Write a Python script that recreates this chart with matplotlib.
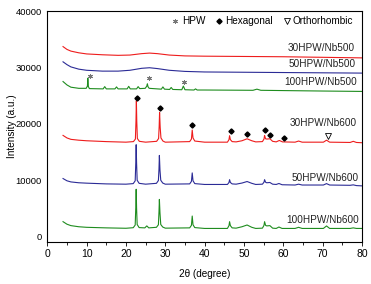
import matplotlib

matplotlib.use("Agg")
import matplotlib.pyplot as plt

plt.rcParams.update({
    "font.family": ["Liberation Sans", "DejaVu Sans"],
    "font.size": 7,
})

# --- data (2theta in degrees, intensity in a.u.) ---
TT_30_500 = [4, 5, 6, 8, 10, 14, 18, 21, 24, 26, 28, 31, 35, 40, 50, 60, 70, 80]
I_30_500 = [33700, 33200, 32900, 32600, 32400, 32250, 32150, 32200, 32450,
            32550, 32450, 32200, 32050, 32000, 31950, 31900, 31800, 31700]

TT_50_500 = [4, 5, 6, 8, 10, 14, 18, 21, 24, 26, 28, 31, 35, 40, 50, 60, 70, 80]
I_50_500 = [31000, 30500, 30100, 29700, 29500, 29350, 29350, 29500, 29850,
            29950, 29800, 29500, 29300, 29200, 29150, 29100, 29050, 29000]

TT_100_500 = [4, 5, 6, 8, 9.9, 10.2, 10.3, 10.45, 10.7, 14.2, 14.6, 15.0, 17.2,
              17.6, 18.0, 20.3, 20.7, 21.1, 22.7, 23.1, 23.5, 24.9, 25.3, 25.45,
              25.6, 25.9, 29.0, 29.4, 29.8, 31.1, 31.5, 31.9, 34.2, 34.6, 35.0,
              37.3, 37.7, 38.1, 40, 52.3, 53.3, 54.3, 60, 70, 80]
I_100_500 = [27500, 26900, 26500, 26300, 26300, 26700, 28100, 26600, 26250,
             26200, 26600, 26200, 26200, 26550, 26200, 26200, 26650, 26200,
             26200, 26600, 26250, 26300, 26700, 27100, 26600, 26300, 26150,
             26550, 26150, 26100, 26450, 26100, 26050, 26700, 26050, 26000,
             26200, 26000, 26000, 25950, 26150, 25950, 25900, 25820, 25750]

TT_30_600 = [4, 5, 6, 8, 10, 15, 20, 21.9, 22.4, 22.55, 22.65, 22.75, 22.9,
             23.4, 25, 27.8, 28.3, 28.45, 28.55, 28.7, 28.9, 29.4, 30, 36.2,
             36.65, 36.85, 37.05, 37.5, 40, 45.8, 46.2, 46.35, 46.55, 47.0, 48,
             49.5, 50.8, 52, 53, 54.7, 55.1, 55.25, 55.5, 55.8, 56.6, 57.3,
             58.2, 59.0, 59.8, 63, 63.9, 64.8, 70.2, 71.0, 71.8, 77, 77.8, 78.6,
             80]
I_30_600 = [17950, 17500, 17250, 17100, 17000, 16850, 16750, 16850, 17300,
            20500, 24100, 20500, 17400, 16900, 16750, 16900, 17400, 19600,
            22050, 19400, 17500, 16950, 16750, 16850, 17300, 18900, 17500,
            16950, 16750, 16750, 17200, 17900, 17200, 16850, 16800, 17000,
            17350, 17000, 16800, 16850, 17300, 17950, 17350, 17300, 17350,
            16900, 16800, 17050, 16800, 16750, 16950, 16750, 16750, 17100,
            16750, 16700, 16900, 16700, 16650]

TT_50_600 = [4, 5, 6, 8, 10, 15, 20, 21.85, 22.35, 22.5, 22.6, 22.7, 22.85,
             23.35, 25, 27.75, 28.25, 28.4, 28.5, 28.65, 28.85, 29.35, 30, 36.2,
             36.65, 36.85, 37.05, 37.5, 40, 45.8, 46.2, 46.35, 46.55, 47.0, 48,
             49.5, 50.8, 52, 53, 54.7, 55.1, 55.25, 55.5, 55.8, 56.6, 57.3,
             58.2, 58.9, 59.7, 63, 63.9, 64.8, 70.2, 71.0, 71.8, 77, 77.8, 78.6,
             80]
I_50_600 = [10300, 9900, 9700, 9550, 9480, 9350, 9300, 9400, 9900, 13100,
            16300, 13100, 10000, 9450, 9300, 9450, 9950, 12000, 14400, 11800,
            10000, 9500, 9300, 9350, 9800, 11300, 9900, 9400, 9250, 9250, 9600,
            10100, 9600, 9350, 9300, 9500, 9770, 9450, 9250, 9300, 9650, 10100,
            9650, 9550, 9600, 9300, 9250, 9420, 9200, 9150, 9300, 9150, 9150,
            9400, 9150, 9100, 9180, 9050, 9000]

TT_100_600 = [4, 5, 6, 8, 10, 15, 20, 21.85, 22.35, 22.5, 22.6, 22.7, 22.85,
              23.35, 24.8, 25.3, 25.8, 27.75, 28.25, 28.4, 28.5, 28.65, 28.85,
              29.35, 30, 36.2, 36.65, 36.85, 37.05, 37.5, 40, 45.8, 46.2, 46.35,
              46.55, 47.0, 48, 49.5, 50.8, 52, 53, 54.7, 55.1, 55.25, 55.5, 55.8,
              56.6, 57.3, 58.2, 58.9, 59.7, 63, 63.9, 64.8, 70.2, 71.0, 71.8, 77,
              77.8, 78.6, 80]
I_100_600 = [2650, 2200, 1950, 1750, 1650, 1550, 1480, 1580, 2050, 5200,
             8400, 5100, 2150, 1600, 1550, 1900, 1550, 1650, 2100, 4400, 6600,
             4200, 2150, 1700, 1500, 1550, 2000, 3650, 2100, 1600, 1450, 1450,
             1950, 2650, 1950, 1550, 1500, 1750, 2060, 1650, 1450, 1500, 2000,
             2650, 2000, 1900, 1950, 1500, 1450, 1700, 1450, 1450, 1650, 1450,
             1450, 1890, 1450, 1450, 1550, 1450, 1450]

# phase markers
HPW_TT = [10.8, 25.8, 34.7]
HPW_I = [28550, 28100, 27400]
HEX_TT = [22.9, 28.6, 36.9, 46.6, 50.9, 55.4, 56.6, 60.2]
HEX_I = [24590, 22830, 19830, 18700, 18120, 18820, 18060, 17530]
ORTHO_TT = [71.4]
ORTHO_I = [17820]

SERIES = [
    (TT_30_500, I_30_500, "#ee1c1c", "30HPW/Nb500", 78.3, 33500),
    (TT_50_500, I_50_500, "#2b2b96", "50HPW/Nb500", 78.3, 30550),
    (TT_100_500, I_100_500, "#1e8c1e", "100HPW/Nb500", 78.8, 27360),
    (TT_30_600, I_30_600, "#ee1c1c", "30HPW/Nb600", 78.6, 20100),
    (TT_50_600, I_50_600, "#2b2b96", "50HPW/Nb600", 79.2, 10350),
    (TT_100_600, I_100_600, "#1e8c1e", "100HPW/Nb600", 79.2, 2960),
]

STAR = dict(ls="none", marker=(6, 2, 0), ms=3.5, mec="#777777", mew=0.7)
DIAMOND = dict(ls="none", marker="D", ms=2.6, color="black")
TRIANGLE = dict(ls="none", marker="v", ms=4.5, mfc="white", mec="black", mew=0.6)

fig = plt.figure(figsize=(3.71, 2.84), dpi=100)
ax = fig.add_axes([0.1275, 0.147, 0.848, 0.814])

for tt, inten, color, label, lx, ly in SERIES:
    ax.plot(tt, inten, color=color, lw=0.8)
    ax.text(lx, ly, label, ha="right", va="center", fontsize=7.2, color="#222222")

ax.plot(HPW_TT, HPW_I, **STAR)
ax.plot(HEX_TT, HEX_I, **DIAMOND)
ax.plot(ORTHO_TT, ORTHO_I, **TRIANGLE)

# phase legend across the top
ax.plot([32.4], [38250], **STAR)
ax.text(34.2, 38250, "HPW", ha="left", va="center", fontsize=7.2)
ax.plot([43.7], [38250], **DIAMOND)
ax.text(45.1, 38250, "Hexagonal", ha="left", va="center", fontsize=7.2)
ax.plot([61.0], [38250], **TRIANGLE)
ax.text(62.4, 38250, "Orthorhombic", ha="left", va="center", fontsize=7.2)

ax.set_xlim(0, 80)
ax.set_ylim(-1000, 40000)
ax.set_xticks(range(0, 81, 10))
ax.set_xticks(range(5, 80, 10), minor=True)
ax.set_yticks([0, 10000, 20000, 30000, 40000])
ax.tick_params(axis="x", which="major", direction="out", length=3, width=0.6,
               labelsize=7.5, pad=2)
ax.tick_params(axis="x", which="minor", direction="out", length=2, width=0.6)
ax.tick_params(axis="y", length=0, labelsize=6.8, pad=4)
for sp in ax.spines.values():
    sp.set_linewidth(0.8)

ax.set_xlabel("2θ (degree)", fontsize=7.2, labelpad=7)
ax.set_ylabel("Intensity (a.u.)", fontsize=7.2, labelpad=-1)

fig.savefig("out.png", dpi=100)
